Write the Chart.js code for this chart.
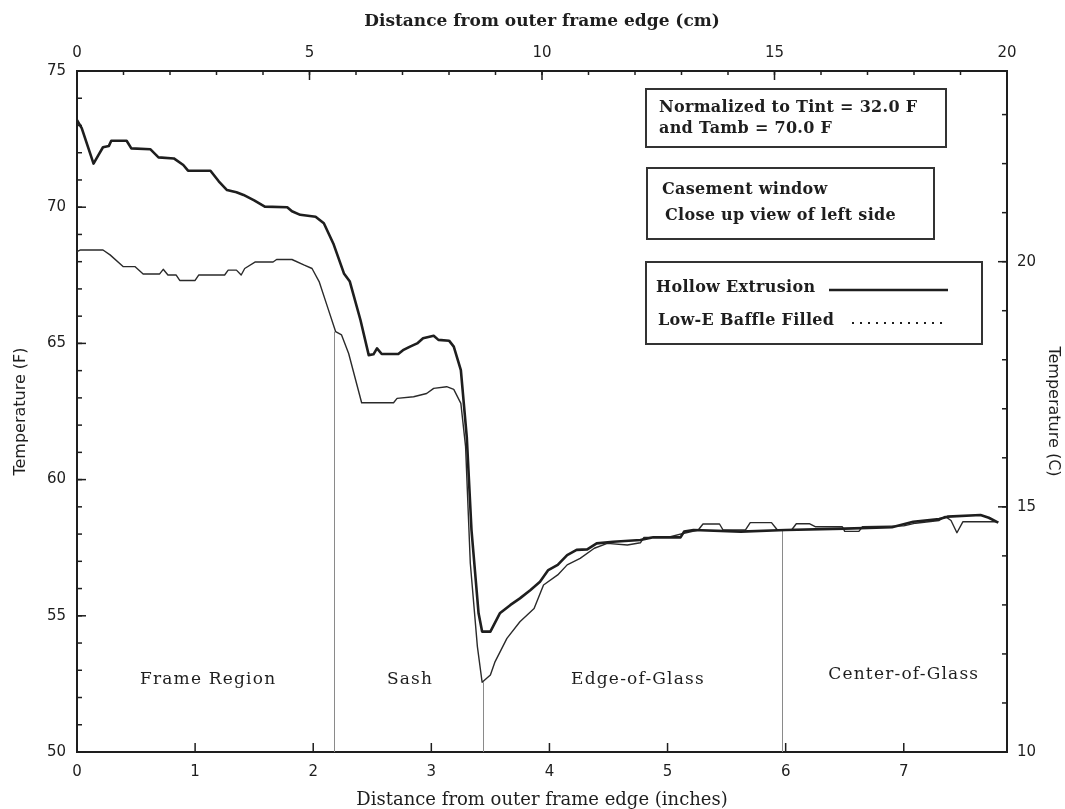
<!DOCTYPE html>
<html>
<head>
<meta charset="utf-8">
<script src="https://cdn.jsdelivr.net/npm/chart.js@4.4.1/dist/chart.umd.min.js"></script>
<style>
  html, body { margin: 0; padding: 0; background: #fff; }
  #wrap { width: 1065px; height: 809px; }
</style>
</head>
<body>
<div id="wrap"><canvas id="grafikSuhu" width="1065" height="809"></canvas></div>
<script>
// data kurva (jarak dalam inci, suhu dalam F)
const hollowX = [0.00, 0.04, 0.14, 0.18, 0.22, 0.27, 0.29, 0.42, 0.46, 0.62, 0.69, 0.82, 0.90, 0.94, 1.13, 1.20, 1.27, 1.35, 1.41, 1.50, 1.59, 1.78, 1.82, 1.89, 2.02, 2.09, 2.17, 2.26, 2.31, 2.40, 2.47, 2.51, 2.54, 2.58, 2.72, 2.76, 2.82, 2.88, 2.93, 3.02, 3.06, 3.15, 3.19, 3.25, 3.30, 3.34, 3.40, 3.43, 3.50, 3.58, 3.67, 3.75, 3.84, 3.92, 3.99, 4.07, 4.15, 4.23, 4.32, 4.40, 4.54, 4.77, 4.88, 5.11, 5.14, 5.22, 5.62, 6.00, 6.50, 6.90, 7.08, 7.30, 7.37, 7.65, 7.72, 7.80];
const hollowY = [73.20, 72.90, 71.60, 71.90, 72.20, 72.25, 72.44, 72.44, 72.16, 72.13, 71.83, 71.79, 71.55, 71.34, 71.34, 70.95, 70.63, 70.55, 70.45, 70.25, 70.02, 70.00, 69.85, 69.72, 69.65, 69.41, 68.67, 67.57, 67.27, 65.86, 64.57, 64.60, 64.82, 64.61, 64.61, 64.75, 64.88, 65.00, 65.19, 65.28, 65.13, 65.10, 64.88, 64.02, 61.57, 58.15, 55.09, 54.42, 54.42, 55.09, 55.40, 55.64, 55.95, 56.25, 56.68, 56.87, 57.23, 57.42, 57.44, 57.66, 57.72, 57.78, 57.88, 57.88, 58.09, 58.15, 58.09, 58.15, 58.20, 58.25, 58.45, 58.55, 58.64, 58.70, 58.60, 58.42];

const baffleX = [0.00, 0.03, 0.22, 0.28, 0.39, 0.49, 0.56, 0.70, 0.73, 0.77, 0.84, 0.87, 1.00, 1.03, 1.25, 1.28, 1.35, 1.39, 1.42, 1.51, 1.66, 1.69, 1.82, 1.92, 1.99, 2.05, 2.12, 2.19, 2.24, 2.30, 2.41, 2.68, 2.71, 2.85, 2.96, 3.02, 3.13, 3.19, 3.25, 3.29, 3.33, 3.39, 3.43, 3.50, 3.54, 3.64, 3.75, 3.87, 3.95, 4.07, 4.15, 4.26, 4.38, 4.49, 4.66, 4.77, 4.80, 5.00, 5.14, 5.26, 5.30, 5.44, 5.47, 5.66, 5.70, 5.88, 5.93, 6.05, 6.09, 6.20, 6.25, 6.48, 6.50, 6.62, 6.65, 7.00, 7.10, 7.30, 7.35, 7.40, 7.45, 7.50, 7.80];
const baffleY = [68.37, 68.43, 68.43, 68.25, 67.82, 67.82, 67.55, 67.55, 67.72, 67.51, 67.51, 67.31, 67.31, 67.51, 67.51, 67.69, 67.69, 67.51, 67.75, 67.99, 67.99, 68.08, 68.08, 67.88, 67.75, 67.27, 66.35, 65.43, 65.31, 64.63, 62.82, 62.82, 62.98, 63.04, 63.16, 63.35, 63.41, 63.31, 62.80, 61.21, 56.93, 53.87, 52.56, 52.83, 53.32, 54.17, 54.78, 55.27, 56.13, 56.50, 56.87, 57.11, 57.48, 57.66, 57.60, 57.68, 57.88, 57.88, 58.03, 58.15, 58.37, 58.37, 58.15, 58.15, 58.42, 58.42, 58.15, 58.15, 58.38, 58.38, 58.27, 58.27, 58.10, 58.10, 58.27, 58.30, 58.40, 58.50, 58.65, 58.50, 58.05, 58.45, 58.45];

// batas daerah (garis vertikal) dan label daerah
const dividerX = [2.18, 3.44, 5.97];
const dividerTop = [65.43, 52.56, 58.15];
const regionNames = ['Frame Region', 'Sash', 'Edge-of-Glass', 'Center-of-Glass'];
const regionX = [1.11, 2.82, 4.75, 7.00];
const regionY = [52.65, 52.65, 52.65, 52.85];

// teks kotak keterangan
const noteLines1 = ['Normalized to Tint = 32.0 F', 'and Tamb = 70.0 F'];
const noteLines2 = ['Casement window', 'Close up view of left side'];
const legendNames = ['Hollow Extrusion', 'Low-E Baffle Filled'];

// rentang sumbu
const inchMax = 20 / 2.54;
const cmMax = 20;
const fMin = 50, fMax = 75;
const cMin = (fMin - 32) / 1.8, cMax = (fMax - 32) / 1.8;

const serif = "'DejaVu Serif', serif";
const sans = "'DejaVu Sans', sans-serif";
const ink = '#1e1e1e';

function rangeStep(min, max, step) {
    const out = [];
    for (let v = Math.ceil(min / step) * step; v <= max + 1e-9; v += step) out.push(v);
    return out;
}

// plugin: tick ke dalam, garis batas, label daerah, kotak keterangan
const annotasiPlugin = {
    id: 'annotasi',
    beforeDatasetsDraw(chart) {
        const ctx = chart.ctx;
        const sx = chart.scales.x, sy = chart.scales.y;
        ctx.save();
        ctx.strokeStyle = '#8a8a8a';
        ctx.lineWidth = 1;
        dividerX.forEach(function (d, i) {
            const px = Math.round(sx.getPixelForValue(d)) + 0.5;
            ctx.beginPath();
            ctx.moveTo(px, sy.getPixelForValue(fMin));
            ctx.lineTo(px, sy.getPixelForValue(dividerTop[i]));
            ctx.stroke();
        });
        ctx.restore();
    },
    afterDraw(chart) {
        const ctx = chart.ctx;
        const area = chart.chartArea;
        const s = chart.scales;
        ctx.save();
        ctx.strokeStyle = ink;
        ctx.lineWidth = 1.5;

        function tick(scale, values, len) {
            values.forEach(function (v) {
                ctx.beginPath();
                if (scale.axis === 'x') {
                    const px = scale.getPixelForValue(v);
                    const y0 = scale.position === 'top' ? area.top : area.bottom;
                    const dir = scale.position === 'top' ? 1 : -1;
                    ctx.moveTo(px, y0);
                    ctx.lineTo(px, y0 + dir * len);
                } else {
                    const py = scale.getPixelForValue(v);
                    const x0 = scale.position === 'left' ? area.left : area.right;
                    const dir = scale.position === 'left' ? 1 : -1;
                    ctx.moveTo(x0, py);
                    ctx.lineTo(x0 + dir * len, py);
                }
                ctx.stroke();
            });
        }
        tick(s.x, s.x.ticks.map(t => t.value), 9);
        tick(s.x2, rangeStep(0, cmMax, 1), 4);
        tick(s.x2, s.x2.ticks.map(t => t.value), 9);
        tick(s.y, rangeStep(fMin, fMax, 1), 5);
        tick(s.y, s.y.ticks.map(t => t.value), 9);
        tick(s.y2, rangeStep(cMin, cMax, 1), 5);
        tick(s.y2, s.y2.ticks.map(t => t.value), 9);

        // label daerah
        ctx.fillStyle = ink;
        ctx.font = '17px ' + serif;
        ctx.letterSpacing = '1.2px';
        ctx.textAlign = 'center';
        ctx.textBaseline = 'middle';
        regionNames.forEach(function (n, i) {
            ctx.fillText(n, s.x.getPixelForValue(regionX[i]), s.y.getPixelForValue(regionY[i]));
        });

        // kotak keterangan
        ctx.lineWidth = 2;
        ctx.strokeStyle = '#333';
        ctx.textAlign = 'left';
        ctx.font = 'bold 16px ' + serif;
        ctx.letterSpacing = '0.3px';
        const L = area.left;
        ctx.strokeRect(L + 569, 89, 300, 58);
        ctx.fillText(noteLines1[0], L + 582, 108);
        ctx.fillText(noteLines1[1], L + 582, 129);

        ctx.strokeRect(L + 570, 168, 287, 71);
        ctx.fillText(noteLines2[0], L + 585, 190);
        ctx.fillText(noteLines2[1], L + 588, 216);

        ctx.strokeRect(L + 569, 262, 336, 82);
        ctx.fillText(legendNames[0], L + 579, 288);
        ctx.fillText(legendNames[1], L + 581, 321);
        ctx.lineWidth = 2.5;
        ctx.strokeStyle = ink;
        ctx.beginPath();
        ctx.moveTo(L + 752, 290);
        ctx.lineTo(L + 871, 290);
        ctx.stroke();
        ctx.lineWidth = 2;
        ctx.setLineDash([2, 6]);
        ctx.beginPath();
        ctx.moveTo(L + 775, 323);
        ctx.lineTo(L + 871, 323);
        ctx.stroke();
        ctx.restore();
    }
};

const hollowData = hollowX.map((x, i) => ({ x: x, y: hollowY[i] }));
const baffleData = baffleX.map((x, i) => ({ x: x, y: baffleY[i] }));

const tickFont = { family: sans, size: 15 };

const config = {
    type: 'line',
    data: {
        datasets: [
            {
                label: legendNames[0],
                data: hollowData,
                borderColor: ink,
                borderWidth: 2.6,
                pointRadius: 0,
                tension: 0,
                borderJoinStyle: 'round',
                xAxisID: 'x',
                yAxisID: 'y'
            },
            {
                label: legendNames[1],
                data: baffleData,
                borderColor: '#2a2a2a',
                borderWidth: 1.4,
                pointRadius: 0,
                tension: 0,
                borderJoinStyle: 'round',
                xAxisID: 'x',
                yAxisID: 'y'
            }
        ]
    },
    options: {
        responsive: false,
        animation: false,
        layout: { padding: 0 },
        plugins: {
            legend: { display: false },
            tooltip: { enabled: false }
        },
        scales: {
            x: {
                type: 'linear',
                position: 'bottom',
                min: 0,
                max: inchMax,
                grid: { display: false, drawTicks: false },
                border: { display: true, color: ink, width: 2 },
                ticks: { stepSize: 1, includeBounds: false, autoSkip: false, maxRotation: 0, padding: 11, color: ink, font: tickFont },
                title: { display: true, text: 'Distance from outer frame edge (inches)', color: ink, font: { family: serif, size: 18, lineHeight: 1 }, padding: { top: 0, bottom: 0 } },
                afterFit: function (scale) { scale.height = 57; }
            },
            x2: {
                type: 'linear',
                position: 'top',
                min: 0,
                max: cmMax,
                grid: { display: false, drawTicks: false },
                border: { display: true, color: ink, width: 2 },
                ticks: { stepSize: 5, includeBounds: false, autoSkip: false, maxRotation: 0, padding: 9, color: ink, font: tickFont },
                title: { display: true, text: 'Distance from outer frame edge (cm)', color: ink, font: { family: serif, size: 17, weight: 'bold', lineHeight: 1 }, padding: { top: 13, bottom: 0 } },
                afterFit: function (scale) { scale.height = 71; }
            },
            y: {
                type: 'linear',
                position: 'left',
                min: fMin,
                max: fMax,
                grid: { display: false, drawTicks: false },
                border: { display: true, color: ink, width: 2 },
                ticks: { stepSize: 5, includeBounds: false, padding: 11, color: ink, font: tickFont },
                title: { display: true, text: 'Temperature (F)', color: ink, font: { family: sans, size: 16, lineHeight: 1 }, padding: { top: 13, bottom: 0 } },
                afterFit: function (scale) { scale.width = 77; }
            },
            y2: {
                type: 'linear',
                position: 'right',
                min: cMin,
                max: cMax,
                grid: { display: false, drawTicks: false },
                border: { display: true, color: ink, width: 2 },
                ticks: { stepSize: 5, includeBounds: false, padding: 10, color: ink, font: tickFont },
                title: { display: true, text: 'Temperature (C)', color: ink, font: { family: sans, size: 16, lineHeight: 1 }, padding: { top: 4, bottom: 0 } },
                afterFit: function (scale) { scale.width = 58; }
            }
        }
    },
    plugins: [annotasiPlugin]
};

new Chart(document.getElementById('grafikSuhu').getContext('2d'), config);
</script>
</body>
</html>
